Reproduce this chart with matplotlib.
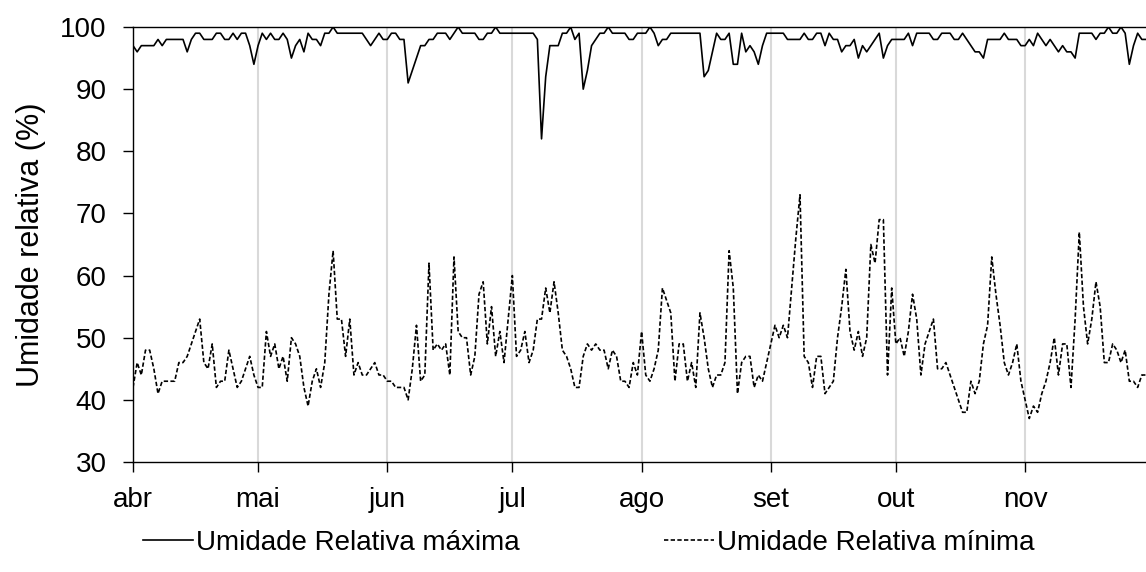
import matplotlib
matplotlib.use('Agg')
import matplotlib.pyplot as plt
import pandas as pd

# ---- data ----
dates = pd.date_range('2019-04-01', '2019-11-30', freq='D')

ur_max = [
    97, 96, 97, 97, 97, 97, 98, 97, 98, 98,
    98, 98, 98, 96, 98, 99, 99, 98, 98, 98,
    99, 99, 98, 98, 99, 98, 99, 99, 97, 94,
    97, 99, 98, 99, 98, 98, 99, 98, 95, 97,
    98, 96, 99, 98, 98, 97, 99, 99, 100, 99,
    99, 99, 99, 99, 99, 99, 98, 97, 98, 99,
    98, 98, 99, 99, 98, 98, 91, 93, 95, 97,
    97, 98, 98, 99, 99, 99, 98, 99, 100, 99,
    99, 99, 99, 98, 98, 99, 99, 100, 99, 99,
    99, 99, 99, 99, 99, 99, 99, 98, 82, 92,
    97, 97, 97, 99, 99, 100, 98, 99, 90, 93,
    97, 98, 99, 99, 100, 99, 99, 99, 99, 98,
    98, 99, 99, 99, 100, 99, 97, 98, 98, 99,
    99, 99, 99, 99, 99, 99, 99, 92, 93, 96,
    99, 98, 98, 99, 94, 94, 99, 96, 97, 96,
    94, 97, 99, 99, 99, 99, 99, 98, 98, 98,
    98, 99, 98, 98, 99, 99, 97, 99, 98, 98,
    96, 97, 97, 98, 95, 97, 96, 97, 98, 99,
    95, 97, 98, 98, 98, 98, 99, 97, 99, 99,
    99, 99, 98, 98, 99, 99, 99, 98, 98, 99,
    98, 97, 96, 96, 95, 98, 98, 98, 98, 99,
    98, 98, 98, 97, 97, 98, 97, 99, 98, 97,
    98, 97, 96, 97, 96, 96, 95, 99, 99, 99,
    99, 98, 99, 99, 100, 99, 99, 100, 99, 94,
    97, 99, 98, 98,
]

ur_min = [
    42, 46, 44, 48, 48, 45, 41, 43, 43, 43,
    43, 46, 46, 47, 49, 51, 53, 46, 45, 49,
    42, 43, 43, 48, 45, 42, 43, 45, 47, 44,
    42, 42, 51, 47, 49, 45, 47, 43, 50, 49,
    47, 42, 39, 43, 45, 42, 46, 57, 64, 53,
    53, 47, 53, 44, 46, 44, 44, 45, 46, 44,
    44, 43, 43, 42, 42, 42, 40, 45, 52, 43,
    44, 62, 48, 49, 48, 49, 44, 63, 51, 50,
    50, 44, 47, 57, 59, 49, 55, 47, 51, 46,
    53, 60, 47, 48, 51, 46, 48, 53, 53, 58,
    54, 59, 54, 48, 47, 45, 42, 42, 47, 49,
    48, 49, 48, 48, 45, 48, 47, 43, 43, 42,
    46, 44, 51, 44, 43, 45, 48, 58, 56, 54,
    43, 49, 49, 43, 46, 42, 54, 50, 45, 42,
    44, 44, 46, 64, 58, 41, 46, 47, 47, 42,
    44, 43, 46, 49, 52, 50, 52, 50, 58, 66,
    73, 47, 46, 42, 47, 47, 41, 42, 43, 50,
    55, 61, 51, 48, 51, 47, 50, 65, 62, 69,
    69, 44, 58, 49, 50, 47, 51, 57, 53, 44,
    49, 51, 53, 45, 45, 46, 44, 42, 40, 38,
    38, 43, 41, 43, 49, 52, 63, 57, 52, 46,
    44, 46, 49, 43, 40, 37, 39, 38, 41, 43,
    46, 50, 44, 49, 49, 42, 53, 67, 55, 49,
    53, 59, 55, 46, 46, 49, 48, 46, 48, 43,
    43, 42, 44, 44,
]

month_ticks = pd.date_range('2019-04-01', '2019-11-01', freq='MS')
month_labels = ['abr', 'mai', 'jun', 'jul', 'ago', 'set', 'out', 'nov']
y_ticks = [30, 40, 50, 60, 70, 80, 90, 100]

label_max = 'Umidade Relativa máxima'
label_min = 'Umidade Relativa mínima'
y_label = 'Umidade relativa (%)'

# ---- figure ----
plt.rcParams['font.family'] = ['Liberation Sans', 'DejaVu Sans']
FS = 20

W, H = 1146, 572
fig = plt.figure(figsize=(W / 100, H / 100), dpi=100)
ax = fig.add_axes([133 / W, 1 - 462 / H, 1 - 133 / W, (462 - 27) / H])

ax.plot(dates, ur_max, color='black', lw=1.2, label=label_max)
ax.plot(dates, ur_min, color='black', lw=1.2, ls=(0, (2.6, 1.4)), label=label_min)

ax.set_xlim(dates[0], dates[-1])
ax.set_ylim(30, 100)
ax.set_yticks(y_ticks)
ax.set_xticks(month_ticks)
ax.set_xticklabels(month_labels)

ax.grid(axis='x', color='#d9d9d9', lw=1.5)
ax.set_axisbelow(True)

for side in ['left', 'bottom', 'top']:
    ax.spines[side].set_linewidth(1.0)
    ax.spines[side].set_color('black')
ax.spines['right'].set_visible(False)

ax.tick_params(axis='both', direction='out', length=7, width=1.0,
               labelsize=FS, colors='black')
ax.tick_params(axis='y', pad=12)
ax.tick_params(axis='x', pad=11)
ax.set_ylabel(y_label, fontsize=22, labelpad=10)

fig.legend(loc='lower center', bbox_to_anchor=(0.514, -0.015), ncol=2,
           frameon=False, fontsize=FS, handlelength=1.8, handletextpad=0.1,
           columnspacing=5.2)

fig.savefig('out.png', dpi=100)
